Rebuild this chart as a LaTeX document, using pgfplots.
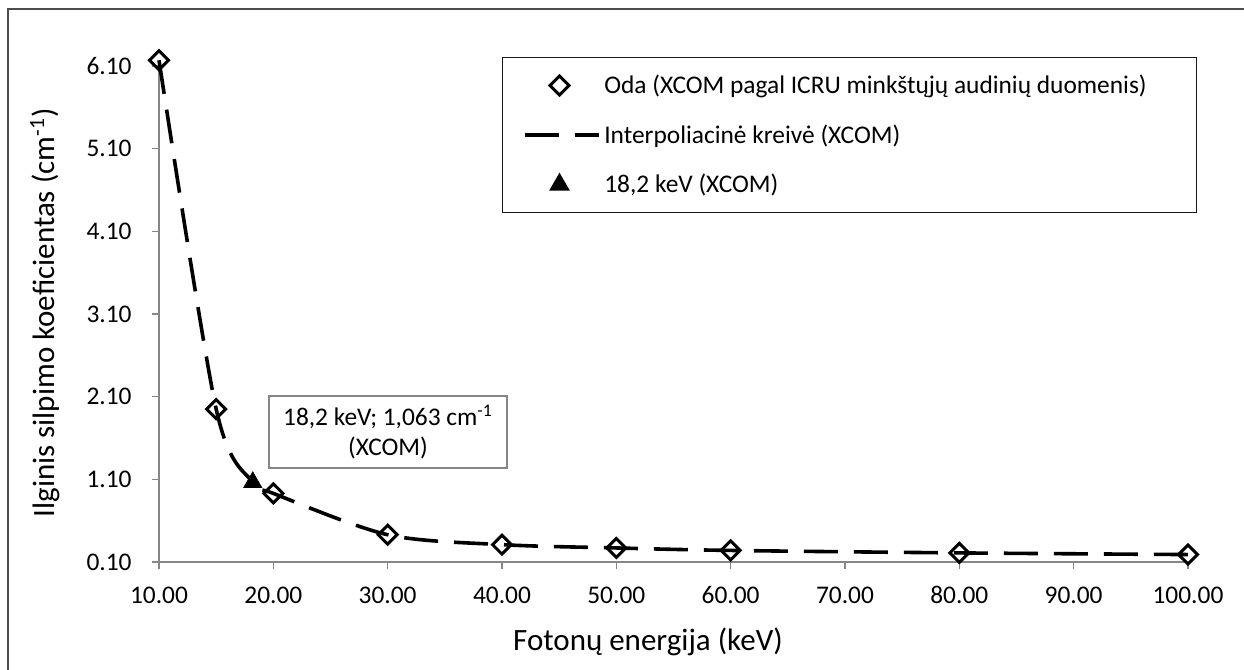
\documentclass[border=0pt]{standalone}
\usepackage{fontspec}
\setmainfont{Carlito}
\usepackage{pgfplots}
\pgfplotsset{compat=1.18}
\definecolor{axgray}{HTML}{868686}
\newcommand{\tickfont}{\fontsize{12.7}{15}\selectfont}
\newcommand{\titlefont}{\fontsize{15.5}{18}\selectfont}
\pgfplotsset{
  legmark/.style={legend image code/.code={\path (0pt,0pt) (37pt,0pt); \draw[##1] plot coordinates {(17.5pt,0pt)};}},
  legline/.style={legend image code/.code={\draw[##1] (0pt,0pt) -- (37pt,0pt);}},
}
\begin{document}
\begin{tikzpicture}[x=1pt,y=1pt]
\useasboundingbox (-79.5,-54) rectangle (542.5,281);
\fill[white] (-79.5,-54) rectangle (542.5,281);
\draw[black!70, line width=0.6pt] (-75.5,-54) -- (-75.5,276.5) -- (542.5,276.5);
\begin{axis}[
  at={(0,0)}, anchor=south west,
  scale only axis, width=514.5pt, height=248pt,
  xmin=10, xmax=100, ymin=0.1, ymax=6.1,
  axis x line*=bottom, axis y line*=left,
  axis line style={draw=axgray, line width=0.75pt, -},
  tick style={draw=axgray, line width=0.75pt},
  tick align=outside, major tick length=3.5pt,
  xtick={10,20,30,40,50,60,70,80,90,100},
  ytick={0.1,1.1,2.1,3.1,4.1,5.1,6.1},
  scaled ticks=false,
  /pgf/number format/fixed, /pgf/number format/fixed zerofill,
  /pgf/number format/precision=2, /pgf/number format/assume math mode=true,
  xticklabel style={font=\tickfont, anchor=center, inner sep=0pt, yshift=-13pt},
  yticklabel style={font=\tickfont, anchor=east, inner sep=0pt, xshift=-10pt},
  clip=false,
  legend cell align=left,
  legend style={at={(axis description cs:0.3333,1.0185)}, anchor=north west,
    draw=black!90, line width=0.75pt, fill=white,
    inner xsep=10pt, inner ysep=8pt, row sep=12.75pt,
    nodes={inner sep=0pt, text height=10pt, text depth=2pt, text width=286pt, align=flush left, font=\tickfont},
    /tikz/every odd column/.append style={column sep=2pt}},
]
\addplot[forget plot, black, line width=1.8pt, dash pattern=on 17pt off 8pt, smooth, tension=0.5]
  coordinates {(10,6.17) (15,1.95) (18.2,1.063) (20,0.93) (30,0.43) (40,0.31) (50,0.27) (60,0.24) (80,0.21) (100,0.19)};
\addplot[only marks, mark=square, mark size=3.35pt, mark options={rotate=45, fill=white, draw=black, line width=1.5pt, solid}, legmark]
  coordinates {(10,6.17) (15,1.95) (20,0.93) (30,0.43) (40,0.31) (50,0.27) (60,0.24) (80,0.21) (100,0.19)};
\addlegendentry{Oda (XCOM pagal ICRU minkštųjų audinių duomenis)}
\addlegendimage{black, line width=1.8pt, dash pattern=on 17pt off 8pt, legline}
\addlegendentry{Interpoliacinė kreivė (XCOM)}
\addplot[only marks, mark=triangle*, mark size=5.2pt, mark options={fill=black, draw=black, solid}, legmark]
  coordinates {(18.2,1.063)};
\addlegendentry{18,2 keV (XCOM)}
\end{axis}
\node[draw=axgray, line width=0.6pt, fill=white, align=center, font=\tickfont,
  minimum width=119pt, minimum height=36pt, inner sep=0pt] at (114.5,65)
  {18,2 keV; 1,063 cm\textsuperscript{-1}\\(XCOM)};
\node[font=\titlefont, rotate=90] at (-57,124.5) {Ilginis silpimo koeficientas (cm\textsuperscript{-1})};
\node[font=\titlefont] at (244.5,-40) {Fotonų energija (keV)};
\end{tikzpicture}
\end{document}
